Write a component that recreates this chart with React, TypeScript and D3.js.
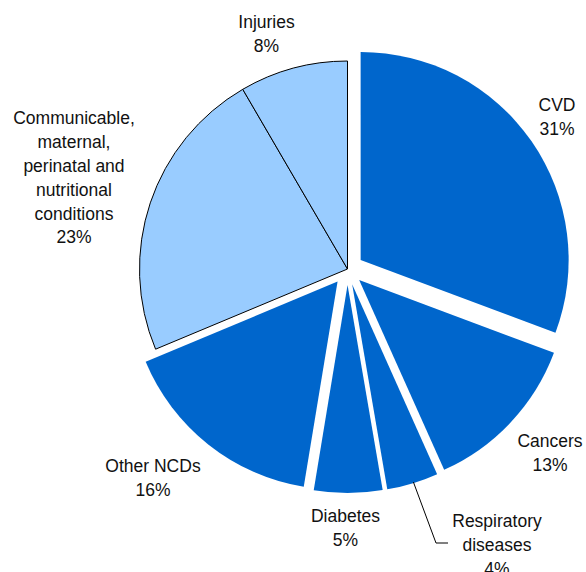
import { useEffect, useRef } from 'react';
import * as d3 from 'd3';

const categories = [
  'CVD',
  'Cancers',
  'Respiratory diseases',
  'Diabetes',
  'Other NCDs',
  'Communicable, maternal, perinatal and nutritional conditions',
  'Injuries',
];
// shares (labels show them rounded)
const values = [30.7, 12.6, 4.0, 5.3, 16.1, 22.9, 8.4];
const exploded = [true, true, true, true, true, false, false];
const labelLines = [
  ['CVD'],
  ['Cancers'],
  ['Respiratory', 'diseases'],
  ['Diabetes'],
  ['Other NCDs'],
  ['Communicable,', 'maternal,', 'perinatal and', 'nutritional', 'conditions'],
  ['Injuries'],
];

// label anchors (centre x, first baseline y)
const labelAnchor: [number, number][] = [
  [557, 111],
  [550, 447],
  [497, 527],
  [345.5, 522],
  [153, 472],
  [74, 124.3],
  [266.5, 28],
];

const WIDTH = 586;
const HEIGHT = 572;
const CX = 347.5;
const CY = 269;
const RADIUS = 208;
const EXPLODE = 16;
const LINE_H = 23.8;

type Datum = { name: string; value: number; i: number };

export default function App() {
  const svgRef = useRef<SVGSVGElement>(null);

  useEffect(() => {
    if (!svgRef.current) return;
    const svg = d3.select(svgRef.current);
    svg.selectAll('*').remove();

    const data: Datum[] = categories.map((name, i) => ({ name, value: values[i], i }));
    const pie = d3.pie<Datum>()
      .sort(null)
      .value((d) => d.value)
      .startAngle(0)
      .endAngle(2 * Math.PI);
    const arcs = pie(data);
    const arc = d3.arc<d3.PieArcDatum<Datum>>()
      .innerRadius(0)
      .outerRadius(RADIUS);

    const offset = (a: d3.PieArcDatum<Datum>) => {
      if (!exploded[a.index]) return [0, 0];
      const mid = (a.startAngle + a.endAngle) / 2;
      return [Math.sin(mid) * EXPLODE, -Math.cos(mid) * EXPLODE];
    };

    const g = svg.append('g').attr('transform', `translate(${CX},${CY})`);

    g.selectAll('path.slice')
      .data(arcs)
      .join('path')
      .attr('class', 'slice')
      .attr('transform', (d) => {
        const [dx, dy] = offset(d);
        return `translate(${dx},${dy})`;
      })
      .attr('d', arc)
      .attr('fill', (d) => (exploded[d.index] ? '#0066CC' : '#99CCFF'))
      .attr('stroke', (d) => (exploded[d.index] ? 'none' : '#000'))
      .attr('stroke-width', 1)
      .attr('stroke-linejoin', 'round');

    // leader line for respiratory diseases
    const resp = arcs[2];
    const [rdx, rdy] = offset(resp);
    const ang = resp.startAngle + (resp.endAngle - resp.startAngle) * 0.48;
    const sx = CX + rdx + Math.sin(ang) * (RADIUS - 1);
    const sy = CY + rdy - Math.cos(ang) * (RADIUS - 1);
    svg.append('polyline')
      .attr('points', `${sx},${sy} 436,543 448,543`)
      .attr('fill', 'none')
      .attr('stroke', '#000')
      .attr('stroke-width', 1);

    const labels = svg.append('g')
      .attr('font-family', '"Liberation Sans", Arial, Helvetica, sans-serif')
      .attr('font-size', '17.5px')
      .attr('fill', '#111')
      .attr('text-anchor', 'middle');

    labelLines.forEach((lines, i) => {
      const [x, y] = labelAnchor[i];
      const t = labels.append('text').attr('x', x).attr('y', y);
      [...lines, `${Math.round(values[i])}%`].forEach((line, j) => {
        t.append('tspan')
          .attr('x', x)
          .attr('y', y + j * LINE_H)
          .text(line);
      });
    });
  }, []);

  return (
    <svg
      ref={svgRef}
      width={WIDTH}
      height={HEIGHT}
      style={{ position: 'absolute', left: 0, top: 0, background: '#fff' }}
    />
  );
}
